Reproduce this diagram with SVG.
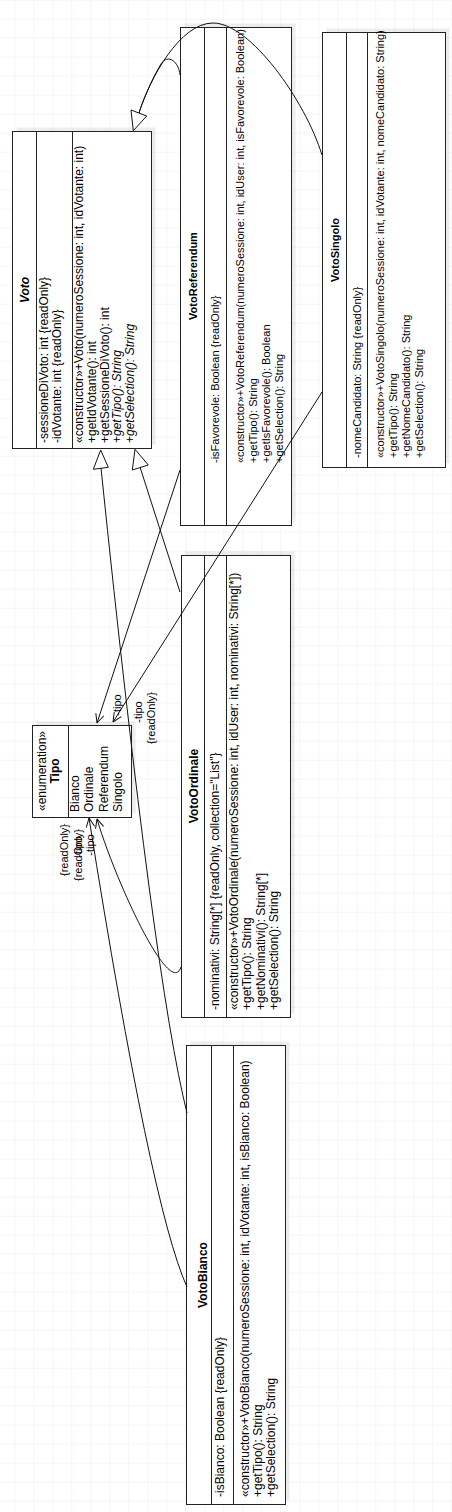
<svg xmlns="http://www.w3.org/2000/svg" width="452" height="1512" viewBox="0 0 452 1512">
<style>
text{font-family:"Liberation Sans",Arial,Helvetica,sans-serif;fill:#000}
.s11{font-size:11px}
.s12{font-size:12px}
.b{font-weight:bold}
.i{font-style:italic}
.m{text-anchor:middle}
.box{fill:#fff;stroke:#222;stroke-width:1}
.sh{fill:#000;fill-opacity:0.07}
.dv{stroke:#222;stroke-width:1}
.ln{fill:none;stroke:#111;stroke-width:1}
.tri{fill:#fff;stroke:#111;stroke-width:1}
</style>
<defs>
<pattern id="grid" width="19" height="19" patternUnits="userSpaceOnUse" x="14.3" y="18.7">
<path d="M19 0H0V19" fill="none" stroke="#ebebeb" stroke-width="1"/>
</pattern>
<marker id="open" viewBox="0 0 10 10" refX="9.5" refY="5" markerWidth="10" markerHeight="10" markerUnits="userSpaceOnUse" orient="auto">
<path d="M0.5,0.8 L9.5,5 L0.5,9.2" fill="none" stroke="#111" stroke-width="1"/>
</marker>
</defs>
<rect width="452" height="1512" fill="#fff"/>
<rect width="452" height="1512" fill="url(#grid)"/>

<g id="Voto">
<rect class="sh" x="16.5" y="127.5" width="139" height="317"/>
<rect class="box" x="12.5" y="131.5" width="139" height="317"/>
<line class="dv" x1="36.5" y1="131.5" x2="36.5" y2="448.5"/>
<line class="dv" x1="72.5" y1="131.5" x2="72.5" y2="448.5"/>
<text class="s12 b i m" transform="translate(28.5,290) rotate(-90)">Voto</text>
<text class="s12" transform="translate(47.5,443) rotate(-90)">-sessioneDiVoto: int {readOnly}</text>
<text class="s12" transform="translate(60.5,443) rotate(-90)">-idVotante: int {readOnly}</text>
<text class="s12" transform="translate(83.3,443) rotate(-90)">«constructor»+Voto(numeroSessione: int, idVotante: int)</text>
<text class="s12" transform="translate(96,443) rotate(-90)">+getIdVotante(): int</text>
<text class="s12" transform="translate(108.7,443) rotate(-90)">+getSessioneDiVoto(): int</text>
<text class="s12 i" transform="translate(121.4,443) rotate(-90)">+getTipo(): String</text>
<text class="s12 i" transform="translate(134.1,443) rotate(-90)">+getSelection(): String</text>
</g>

<g id="VotoReferendum">
<rect class="sh" x="184.5" y="23.5" width="111" height="498"/>
<rect class="box" x="180.5" y="27.5" width="111" height="498"/>
<line class="dv" x1="204.5" y1="27.5" x2="204.5" y2="525.5"/>
<line class="dv" x1="226.5" y1="27.5" x2="226.5" y2="525.5"/>
<text class="s11 b m" transform="translate(197,276) rotate(-90)">VotoReferendum</text>
<text class="s11" transform="translate(219,463) rotate(-90)">-isFavorevole: Boolean {readOnly}</text>
<text class="s11" transform="translate(243.5,463) rotate(-90)">«constructor»+VotoReferendum(numeroSessione: int, idUser: int, isFavorevole: Boolean)</text>
<text class="s11" transform="translate(256.8,463) rotate(-90)">+getTipo(): String</text>
<text class="s11" transform="translate(270.1,463) rotate(-90)">+getIsFavorevole(): Boolean</text>
<text class="s11" transform="translate(283.4,463) rotate(-90)">+getSelection(): String</text>
</g>

<g id="VotoSingolo">
<rect class="sh" x="326.5" y="28.5" width="123" height="435"/>
<rect class="box" x="322.5" y="32.5" width="123" height="435"/>
<line class="dv" x1="346.5" y1="32.5" x2="346.5" y2="467.5"/>
<line class="dv" x1="367.5" y1="32.5" x2="367.5" y2="467.5"/>
<text class="s11 b m" transform="translate(338.5,250) rotate(-90)">VotoSingolo</text>
<text class="s11" transform="translate(361,458) rotate(-90)">-nomeCandidato: String {readOnly}</text>
<text class="s11" transform="translate(383.5,458) rotate(-90)">«constructor»+VotoSingolo(numeroSessione: int, idVotante: int, nomeCandidato: String)</text>
<text class="s11" transform="translate(396.8,458) rotate(-90)">+getTipo(): String</text>
<text class="s11" transform="translate(410.1,458) rotate(-90)">+getNomeCandidato(): String</text>
<text class="s11" transform="translate(423.4,458) rotate(-90)">+getSelection(): String</text>
</g>

<g id="Tipo">
<rect class="sh" x="36.5" y="721.5" width="99" height="92"/>
<rect class="box" x="32.5" y="725.5" width="99" height="92"/>
<line class="dv" x1="68.5" y1="725.5" x2="68.5" y2="817.5"/>
<text class="s12 m" transform="translate(46,771) rotate(-90)">«enumeration»</text>
<text class="s12 b m" transform="translate(59,771) rotate(-90)">Tipo</text>
<text class="s12" transform="translate(79,812) rotate(-90)">Bianco</text>
<text class="s12" transform="translate(93.3,812) rotate(-90)">Ordinale</text>
<text class="s12" transform="translate(107.6,812) rotate(-90)">Referendum</text>
<text class="s12" transform="translate(122,812) rotate(-90)">Singolo</text>
</g>

<g id="VotoOrdinale">
<rect class="sh" x="185.5" y="551.5" width="109" height="462"/>
<rect class="box" x="181.5" y="555.5" width="109" height="462"/>
<line class="dv" x1="204.5" y1="555.5" x2="204.5" y2="1017.5"/>
<line class="dv" x1="226.5" y1="555.5" x2="226.5" y2="1017.5"/>
<text class="s12 b m" transform="translate(197.5,786) rotate(-90)">VotoOrdinale</text>
<text class="s12" transform="translate(218.5,1010) rotate(-90)">-nominativi: String[*] {readOnly, collection="List"}</text>
<text class="s12" transform="translate(238,1010) rotate(-90)">«constructor»+VotoOrdinale(numeroSessione: int, idUser: int, nominativi: String[*])</text>
<text class="s12" transform="translate(251.3,1010) rotate(-90)">+getTipo(): String</text>
<text class="s12" transform="translate(264.6,1010) rotate(-90)">+getNominativi(): String[*]</text>
<text class="s12" transform="translate(277.9,1010) rotate(-90)">+getSelection(): String</text>
</g>

<g id="VotoBianco">
<rect class="sh" x="190.5" y="1041.5" width="99" height="459"/>
<rect class="box" x="186.5" y="1045.5" width="99" height="459"/>
<line class="dv" x1="211.5" y1="1045.5" x2="211.5" y2="1504.5"/>
<line class="dv" x1="233.5" y1="1045.5" x2="233.5" y2="1504.5"/>
<text class="s12 b m" transform="translate(206.5,1275) rotate(-90)">VotoBianco</text>
<text class="s12" transform="translate(224,1497) rotate(-90)">-isBianco: Boolean {readOnly}</text>
<text class="s12" transform="translate(248.5,1497) rotate(-90)">«constructor»+VotoBianco(numeroSessione: int, idVotante: int, isBianco: Boolean)</text>
<text class="s12" transform="translate(261.8,1497) rotate(-90)">+getTipo(): String</text>
<text class="s12" transform="translate(275.1,1497) rotate(-90)">+getSelection(): String</text>
</g>

<g id="connectors">
<path class="ln" d="M180,75 C179,62 168,53 161,64 C152,79 142,102 138,116"/>
<path class="ln" d="M322,155 C305,100 250,23 213,23 C180,23 150,78 139,113"/>
<polygon class="tri" points="133.3,130.7 131,110 146.7,116"/>
<path class="ln" d="M180,592 L140,467"/>
<polygon class="tri" points="135,449.3 132.3,470 148.3,465"/>
<path class="ln" d="M187,1113 Q154,982 101,468"/>
<polygon class="tri" points="100.7,450 93.3,469.3 108.3,467.3"/>
<path class="ln" d="M180,470 L97,723" marker-end="url(#open)"/>
<path class="ln" d="M322,392 L113,722" marker-end="url(#open)"/>
<path class="ln" d="M181,967 C170,1000 115,880 97,819" marker-end="url(#open)"/>
<path class="ln" d="M187,1287 Q151,1208 89,818" marker-end="url(#open)"/>
<text class="s11 m" transform="translate(120.5,705) rotate(-90)">-tipo</text>
<text class="s11 m" transform="translate(141.5,712) rotate(-90)">-tipo</text>
<text class="s11 m" transform="translate(154.5,718) rotate(-90)">{readOnly}</text>
<text class="s11 m" transform="translate(68,850) rotate(-90)">{readOnly}</text>
<text class="s11 m" transform="translate(82,855) rotate(-90)">{readOnly}</text>
<text class="s11 m" transform="translate(82,847) rotate(-90)">-tipo</text>
<text class="s11 m" transform="translate(94,845) rotate(-90)">-tipo</text>
</g>
</svg>
